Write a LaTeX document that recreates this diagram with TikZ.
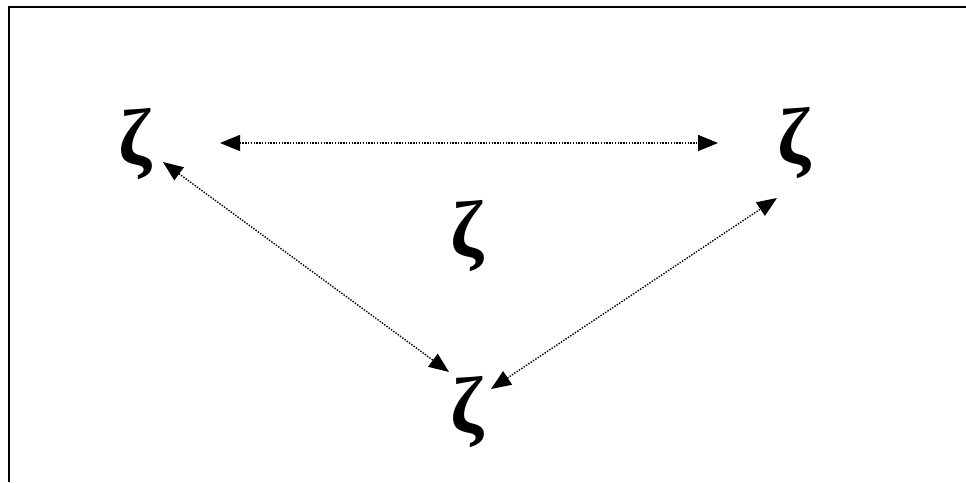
\documentclass[tikz,border=0pt]{standalone}
\usepackage{fontspec}
\setmainfont{Liberation Serif}
\usetikzlibrary{arrows.meta}
\begin{document}
\begin{tikzpicture}[x=1pt,y=-1pt,
  zeta/.style={inner sep=0pt,font=\fontsize{80}{82}\selectfont\bfseries},
  tip/.tip={Triangle[length=20pt 0,width=16pt 0]},
  link/.style={line width=1.4pt,dash pattern=on 1.4pt off 1.4pt,tip-tip}]
\useasboundingbox (0,0) rectangle (966,482);
\draw[line width=2pt] (9,482) -- (9,7) -- (966,7);
\node[zeta] (l) at (135,144) {ζ};
\node[zeta] (r) at (794,143) {ζ};
\node[zeta] (c) at (467,236) {ζ};
\node[zeta] (b) at (467,412) {ζ};
\coordinate (t1) at (220,143);
\coordinate (t2) at (718,143);
\coordinate (d1) at (163,162);
\coordinate (d2) at (449,372);
\coordinate (e1) at (491,389);
\coordinate (e2) at (777,198);
\draw[link] (t1) -- (t2);
\draw[link] (d1) -- (d2);
\draw[link] (e1) -- (e2);
\end{tikzpicture}
\end{document}
